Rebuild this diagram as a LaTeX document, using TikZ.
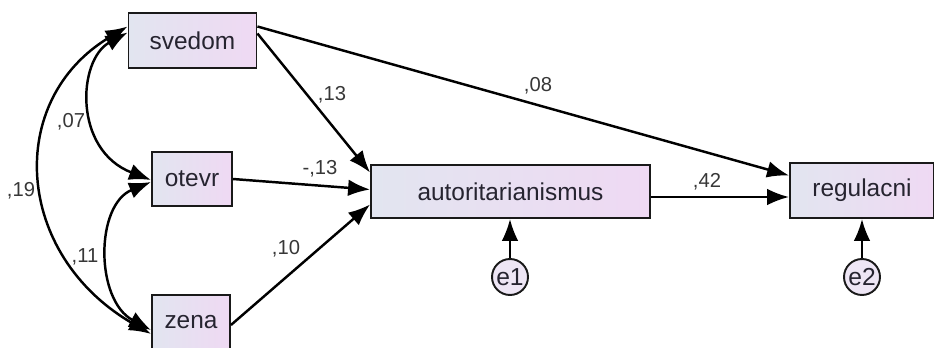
\documentclass[tikz,border=0pt]{standalone}
\usepackage{fontspec}
\setmainfont{Liberation Sans}
\usetikzlibrary{arrows.meta,calc}
\definecolor{boxL}{RGB}{226,229,240}
\definecolor{boxR}{RGB}{239,217,243}
\definecolor{errfill}{RGB}{238,230,245}
\definecolor{txt}{RGB}{38,36,48}
\definecolor{lab}{RGB}{55,55,55}
\tikzset{
  var/.style={draw=black!90, line width=1.1pt, left color=boxL, right color=boxR,
    inner sep=0pt, text=txt, font=\fontsize{13.9}{16}\selectfont},
  err/.style={circle, draw=black!90, line width=1.1pt, fill=errfill, inner sep=0pt,
    minimum size=0.72cm, text=txt, font=\fontsize{14}{16}\selectfont},
  path/.style={line width=1.4pt, -{Latex[length=12.5pt,width=9.5pt]}},
  cov/.style={line width=1.4pt, {Latex[length=12.5pt,width=9.5pt]}-{Latex[length=12.5pt,width=9.5pt]}},
  lbl/.style={text=lab, font=\fontsize{11.5}{13}\selectfont, inner sep=0pt}
}
\begin{document}
\begin{tikzpicture}[x=0.02cm,y=-0.02cm]
\useasboundingbox (0,0) rectangle (934,348);
\begin{scope}
\clip (0,0) rectangle (934,348);
\node[var, minimum width=2.56cm, minimum height=1.10cm] (svedom) at (192.5,40.5) {svedom};
\node[var, minimum width=1.60cm, minimum height=1.08cm] (otevr) at (192,179) {otevr};
\node[var, minimum width=1.56cm, minimum height=1.08cm] (zena) at (191,322) {zena};
\node[var, minimum width=5.58cm, minimum height=1.06cm] (autor) at (510.5,191.5) {autoritarianismus};
\node[var, minimum width=2.88cm, minimum height=1.10cm] (regul) at (862,190.5) {regulacni};
\node[err] (e1) at (510,277) {e1};
\node[err] (e2) at (862,277) {e2};

% directed paths
\draw[path] ($(svedom.east)+(0,-14)$) -- ($(regul.west)+(0,-15)$);
\draw[path] ($(svedom.east)+(0,-7)$) -- ($(autor.west)+(0,-19)$);
\draw[path] (otevr.east) -- ($(autor.west)+(0,-2)$);
\draw[path] ($(zena.east)+(0,3)$) -- ($(autor.west)+(0,13)$);
\draw[path] ($(autor.east)+(0,5.5)$) -- ($(regul.west)+(0,6.5)$);
\draw[path] (e1) -- (e1 |- autor.south);
\draw[path] (e2) -- (e2 |- regul.south);

% covariances
\draw[cov] ($(svedom.west)+(0,-14)$) .. controls +(-123,73.5) and +(-137,-79) .. ($(zena.west)+(0,12)$);
\draw[cov] ($(svedom.west)+(0,-8)$) .. controls +(-50,27.5) and +(-78,-30) .. ($(otevr.west)+(0,1)$);
\draw[cov] ($(otevr.west)+(0,3)$) .. controls +(-56,23) and +(-56,-30) .. ($(zena.west)+(0,8)$);
\end{scope}

% labels
\node[lbl] (l08) at (538,86) {,08};
\node[lbl] (l13) at (332,95) {,13};
\node[lbl] (lm13) at (320,169) {-,13};
\node[lbl] (l10) at (286,249) {,10};
\node[lbl] (l42) at (707,182) {,42};
\node[lbl] (l07) at (71,122) {,07};
\node[lbl] (l19) at (21,191) {,19};
\node[lbl] (l11) at (85,257) {,11};
\end{tikzpicture}
\end{document}
